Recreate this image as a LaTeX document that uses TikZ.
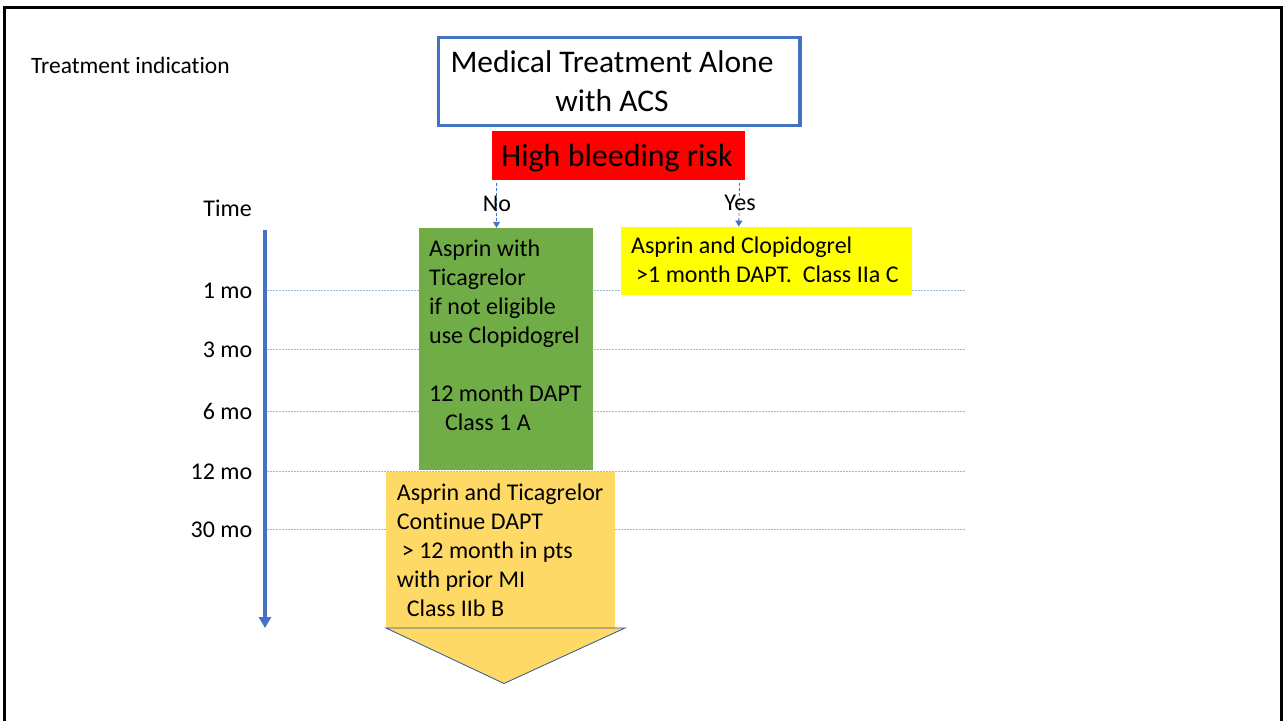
\documentclass[tikz,border=0pt]{standalone}
\usepackage{fontspec}
\setmainfont{Carlito}[Ligatures=CommonOff]
\usepackage{tikz}
\usetikzlibrary{arrows.meta, positioning}

\definecolor{accblue}{RGB}{68,114,196}
\definecolor{gridblue}{RGB}{160,183,226}
\definecolor{dapgreen}{RGB}{112,173,71}
\definecolor{dapyellow}{RGB}{255,255,0}
\definecolor{dapgold}{RGB}{255,217,102}
\definecolor{edgeblue}{RGB}{47,85,151}

\begin{document}
\begin{tikzpicture}[x=1pt, y=-1pt,
        lbl/.style={font=\fontsize{24}{29}\selectfont, inner sep=0pt},
        boxtxt/.style={lbl, align=left, anchor=north west},
        block/.style={rectangle, inner sep=0pt, draw=none},
        gridline/.style={gridblue, line width=0.8pt, dash pattern=on 2pt off 1pt},
        dasharr/.style={accblue, line width=0.9pt, dash pattern=on 3pt off 2pt, -{Triangle[width=7pt,length=6pt]}},
    ]
    \useasboundingbox (0,0) rectangle (1284,721);
    \draw[line width=3pt] (4.2,721) -- (4.2,7.5) -- (1281,7.5) -- (1281,721);

    \node[font=\fontsize{23.5}{29}\selectfont, inner sep=0pt, anchor=base west] (indic) at (31,73) {Treatment indication};

    % time scale, month rows (lines pass behind the boxes)
    \foreach \mo/\y [count=\i] in {1 mo/290, 3 mo/349.5, 6 mo/411.5, 12 mo/471.5, 30 mo/529.5} {
        \draw[gridline] (267,\y) -- (965,\y);
        \node[lbl, anchor=base east] (mo\i) at (252.5,\y+8) {\mo};
    }
    \node[lbl, anchor=base east] (time) at (252,216) {Time};
    \coordinate (tstart) at (265,230);
    \coordinate (tend) at (265,628);
    \draw[accblue, line width=4.5pt, -{Triangle[width=12pt,length=11pt]}] (tstart) -- (tend);

    % top of the chart
    \node[block, draw=accblue, line width=3.3pt, minimum width=361.7pt, minimum height=88pt] (title) at (619.2,81.7) {};
    \node[font=\fontsize{31.5}{39}\selectfont, inner sep=0pt, align=center, anchor=north] (titletxt) at (612,45.4) {\strut Medical Treatment Alone\\with ACS};
    \node[block, fill=red, minimum width=252.7pt, minimum height=49.3pt] (risk) at (618.7,155.3) {};
    \node[font=\fontsize{32}{38}\selectfont, inner sep=0pt, anchor=base] (risktxt) at (617,166) {High bleeding risk};

    % treatment blocks
    \node[block, fill=dapgreen, minimum width=174.3pt, minimum height=242pt] (nobox) at (505.85,349) {};
    \node[block, fill=dapyellow, minimum width=290.7pt, minimum height=68.3pt] (yesbox) at (766.3,260.9) {};
    \node[block, fill=dapgold, minimum width=229pt, minimum height=156pt] (longbox) at (500.5,549.7) {};
    \fill[dapgold, draw=edgeblue, line width=0.8pt] (386,628) -- (625,628) -- (504,683.5) -- cycle;

    \draw[dasharr] ([xshift=4.4pt,yshift=-3pt]risk.south west) -- ([xshift=78pt]nobox.north west);
    \draw[dasharr] ([xshift=-5.7pt,yshift=-3pt]risk.south east) -- ([xshift=118pt]yesbox.north west);
    \node[lbl, anchor=base] (no) at (497,211) {No};
    \node[lbl, anchor=base] (yes) at (740,210) {Yes};

    \node[boxtxt] (notxt) at (429,236.4) {\strut Asprin with\\Ticagrelor\\if not eligible\\use Clopidogrel\\[29pt]12 month DAPT\\\hspace*{16pt}Class 1 A};
    \node[boxtxt] (yestxt) at (631,233.2) {\strut Asprin and Clopidogrel\\\hspace*{5pt}>1 month DAPT.\ \ Class IIa C};
    \node[boxtxt] (longtxt) at (396.7,479.7) {\strut Asprin and Ticagrelor\\Continue DAPT\\\hspace*{5pt}> 12 month in pts\\with prior MI\\\hspace*{10pt}Class IIb B};
\end{tikzpicture}
\end{document}
